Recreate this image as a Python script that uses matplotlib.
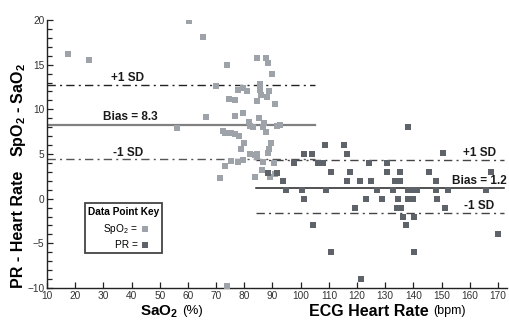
import matplotlib
matplotlib.use("Agg")
import matplotlib.pyplot as plt
from matplotlib.patches import Rectangle
from matplotlib.ticker import MultipleLocator

plt.rcParams['font.family'] = ['Liberation Sans', 'DejaVu Sans']
plt.rcParams['mathtext.fontset'] = 'custom'
plt.rcParams['mathtext.rm'] = 'Liberation Sans'
plt.rcParams['mathtext.bf'] = 'Liberation Sans:bold'

# SpO2 - SaO2 vs SaO2 (%)
spo2_x = [17.6, 24.8, 60.4, 65.4, 73.7, 84.6, 87.8, 88.4, 89.9, 70.1, 85.6, 77.9,
          79.6, 81.0, 85.6, 88.7, 85.8, 87.9, 74.6, 76.8, 84.4, 91.0, 79.4, 76.7,
          66.3, 85.3, 81.8, 86.9, 82.0, 83.2, 86.5, 91.5, 92.7, 87.8, 56.0, 72.5,
          73.1, 75.3, 76.7, 78.1, 79.9, 78.7, 89.5, 88.9, 88.3, 82.0, 84.6, 83.8,
          84.6, 77.9, 79.6, 86.7, 90.5, 73.1, 71.4, 86.2, 83.8, 89.1, 90.9, 73.7,
          75.4]
spo2_y = [16.2, 15.5, 19.9, 18.1, 15.0, 15.7, 15.8, 15.2, 13.9, 12.6, 12.8, 12.2,
          12.4, 12.1, 12.2, 12.1, 11.6, 11.4, 11.2, 11.0, 10.9, 10.6, 9.6, 9.3,
          9.1, 9.0, 8.6, 8.5, 8.1, 8.0, 8.0, 8.1, 8.2, 7.5, 7.9, 7.6,
          7.3, 7.3, 7.2, 7.0, 6.2, 5.6, 6.2, 5.6, 5.1, 5.0, 5.0, 4.9,
          4.7, 4.1, 4.3, 4.1, 4.0, 3.7, 2.3, 3.2, 2.4, 2.4, 2.8, -9.8,
          4.2]

# PR - Heart Rate vs ECG heart rate (bpm)
pr_x = [138.2,
        108.7, 115.5,
        101.3, 104.1, 116.3, 150.6,
        97.5, 106.2, 107.9, 124.1, 130.6,
        88.3, 91.7, 110.8, 117.5, 130.8, 135.3, 145.6, 167.6,
        93.8, 116.6, 121.0, 124.9, 133.6, 135.2, 148.0,
        94.8, 100.3, 109.0, 127.0, 132.6, 138.2, 140.0, 141.1, 147.9, 152.1, 165.6,
        101.3, 123.1, 128.7, 134.4, 138.2, 139.7, 148.2,
        119.3, 134.0, 135.6, 151.2,
        136.2, 140.2,
        104.2, 137.2,
        170.1,
        110.7, 140.2,
        121.3]
pr_y = [8,
        6, 6,
        5, 5, 5, 5.1,
        4, 4, 4, 4, 4,
        2.9, 2.9, 3, 3, 3, 3, 3, 3,
        2, 2, 2, 2, 2, 2, 2,
        1, 1, 1, 1, 1, 1, 1, 1, 1, 1, 1,
        0, 0, 0, 0, 0, 0, 0,
        -1, -1, -1, -1,
        -2, -2,
        -3, -3,
        -4,
        -6, -6,
        -9]

spo2_bias, spo2_sd_hi, spo2_sd_lo = 8.3, 12.7, 4.4
pr_bias, pr_sd_hi, pr_sd_lo = 1.25, 4.3, -1.55

light = '#9ea3aa'
dark = '#5d6368'

fig = plt.figure(figsize=(5.09, 3.2), dpi=100)
ax = fig.add_axes([47 / 509, 32 / 320, 460 / 509, 268 / 320])

ax.scatter(spo2_x, spo2_y, marker='s', s=24, color=light, linewidths=0, zorder=3)
ax.scatter(pr_x, pr_y, marker='s', s=24, color=dark, linewidths=0, zorder=3)

# SpO2 bias / SD lines
ax.plot([10, 105], [spo2_sd_hi, spo2_sd_hi], color='#222222', lw=1.0, ls='-.', dashes=(6, 3, 1.5, 3))
ax.plot([10, 105], [spo2_bias, spo2_bias], color='#808080', lw=1.6)
ax.plot([10, 105], [spo2_sd_lo, spo2_sd_lo], color='#555555', lw=1.0, ls='-.', dashes=(6, 3, 1.5, 3))

# PR bias / SD lines
ax.plot([84, 172], [pr_sd_hi, pr_sd_hi], color='#444444', lw=1.0, ls='-.', dashes=(6, 3, 1.5, 3))
ax.plot([84, 172], [pr_bias, pr_bias], color='#222222', lw=1.1)
ax.plot([84, 172], [pr_sd_lo, pr_sd_lo], color='#444444', lw=1.0, ls='-.', dashes=(6, 3, 1.5, 3))

lbl = dict(fontsize=8.5, fontweight='bold', color='#1a1a1a', va='center')
ax.text(38.6, 13.5, '+1 SD', ha='center', **lbl)
ax.text(39.4, 9.15, 'Bias = 8.3', ha='center', **lbl)
ax.text(38.6, 5.1, '-1 SD', ha='center', **lbl)
ax.text(163.4, 5.1, '+1 SD', ha='center', **lbl)
ax.text(173.2, 2.0, 'Bias = 1.2', ha='right', **lbl)
ax.text(163.4, -0.8, '-1 SD', ha='center', **lbl)

# data point key
ax.add_patch(Rectangle((23.5, -6.1), 27.3, 5.6, fill=False, ec='#444444', lw=1.3, zorder=4))
ax.text(37.2, -1.5, 'Data Point Key', ha='center', va='center', fontsize=7.3, fontweight='bold')
ax.text(42.2, -3.4, 'SpO$_2$ =', ha='right', va='center', fontsize=7.3)
ax.text(42.2, -5.2, 'PR =', ha='right', va='center', fontsize=7.3)
ax.scatter([44.8], [-3.4], marker='s', s=24, color=light, linewidths=0, zorder=5)
ax.scatter([44.8], [-5.2], marker='s', s=24, color=dark, linewidths=0, zorder=5)

ax.set_xlim(10, 173.2)
ax.set_ylim(-10, 20)
ax.spines['top'].set_visible(False)
ax.spines['right'].set_visible(False)
ax.spines['left'].set_bounds(-10, 20)
for s in ('left', 'bottom'):
    ax.spines[s].set_linewidth(1.0)
    ax.spines[s].set_color('#222222')

ax.xaxis.set_major_locator(MultipleLocator(10))
ax.yaxis.set_major_locator(MultipleLocator(5))
ax.yaxis.set_minor_locator(MultipleLocator(1))
ax.tick_params(axis='both', which='both', direction='in', length=4, width=0.9,
               color='#222222', labelsize=7.3, labelcolor='#333333', pad=2)
ax.tick_params(axis='y', which='minor', length=3.5)

fig.text(19 / 509, 1 - 110 / 320, r'SpO$_\mathbf{2}$ - SaO$_\mathbf{2}$', rotation=90,
         ha='center', va='center', fontsize=11.5, fontweight='bold')
fig.text(19 / 509, 1 - 229 / 320, 'PR - Heart Rate', rotation=90,
         ha='center', va='center', fontsize=11.5, fontweight='bold')

fig.text(140 / 509, 1 - 312 / 320, r'SaO$_\mathbf{2}$', ha='left', va='center',
         fontsize=11, fontweight='bold')
fig.text(182 / 509, 1 - 311 / 320, '(%)', ha='left', va='center', fontsize=9.5)
fig.text(309 / 509, 1 - 312 / 320, 'ECG Heart Rate', ha='left', va='center',
         fontsize=11.5, fontweight='bold')
fig.text(466 / 509, 1 - 311 / 320, '(bpm)', ha='right', va='center', fontsize=9)

fig.savefig('out.png', dpi=100)
